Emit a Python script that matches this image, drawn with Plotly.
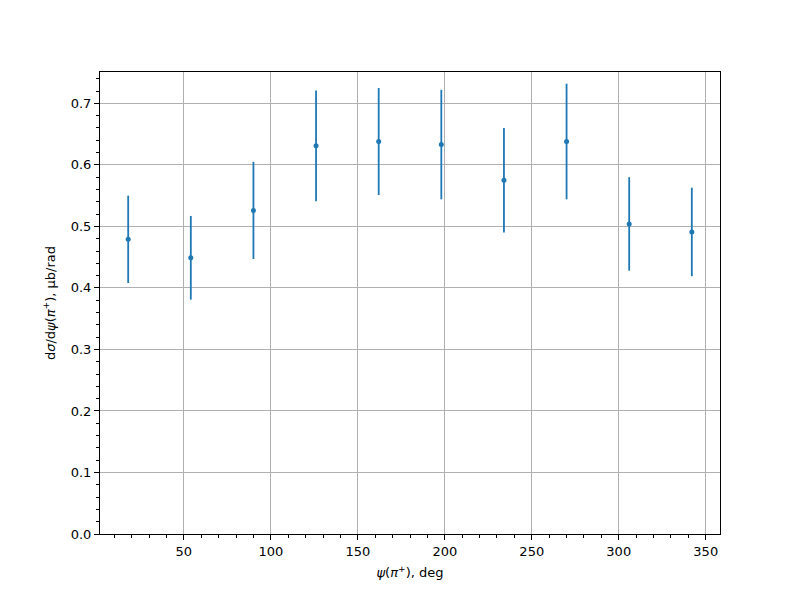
import plotly.graph_objects as go

psi_deg = [18, 54, 90, 126, 162, 198, 234, 270, 306, 342]
dsigma = [0.479, 0.449, 0.526, 0.631, 0.638, 0.633, 0.575, 0.638, 0.504, 0.491]
err = [0.071, 0.068, 0.079, 0.090, 0.087, 0.089, 0.085, 0.094, 0.076, 0.072]

blue = "#1f77b4"
font = dict(family="DejaVu Sans", size=13, color="black")

fig = go.Figure()
fig.add_trace(go.Scatter(
    x=psi_deg, y=dsigma, mode="markers",
    marker=dict(color=blue, size=5),
    error_y=dict(type="data", array=err, visible=True, color=blue, thickness=1.8, width=0),
    showlegend=False,
))

axis_common = dict(
    showline=True, linecolor="black", linewidth=1, mirror=True,
    ticks="outside", ticklen=5, tickwidth=1, tickcolor="black",
    showgrid=True, gridcolor="#b0b0b0", gridwidth=0.8,
    zeroline=False, tickfont=font,
)

fig.update_xaxes(
    range=[1.8, 358.2], tick0=0, dtick=50,
    minor=dict(dtick=10, ticklen=3, tickwidth=0.8, tickcolor="black", ticks="outside", showgrid=False),
    title=dict(text="<i>ψ</i>(<i>π</i><sup>+</sup>), deg", font=font, standoff=10),
    **axis_common,
)
fig.update_yaxes(
    range=[0, 0.751], tick0=0, dtick=0.1, tickformat=".1f",
    minor=dict(dtick=0.02, ticklen=3, tickwidth=0.8, tickcolor="black", ticks="outside", showgrid=False),
    title=dict(text="d<i>σ</i>/d<i>ψ</i>(<i>π</i><sup>+</sup>), μb/rad", font=font, standoff=12),
    **axis_common,
)

fig.update_layout(
    width=800, height=600,
    margin=dict(l=92, r=88, t=64, b=74),
    paper_bgcolor="white", plot_bgcolor="white",
    font=font,
)

fig.write_html("out.html")
